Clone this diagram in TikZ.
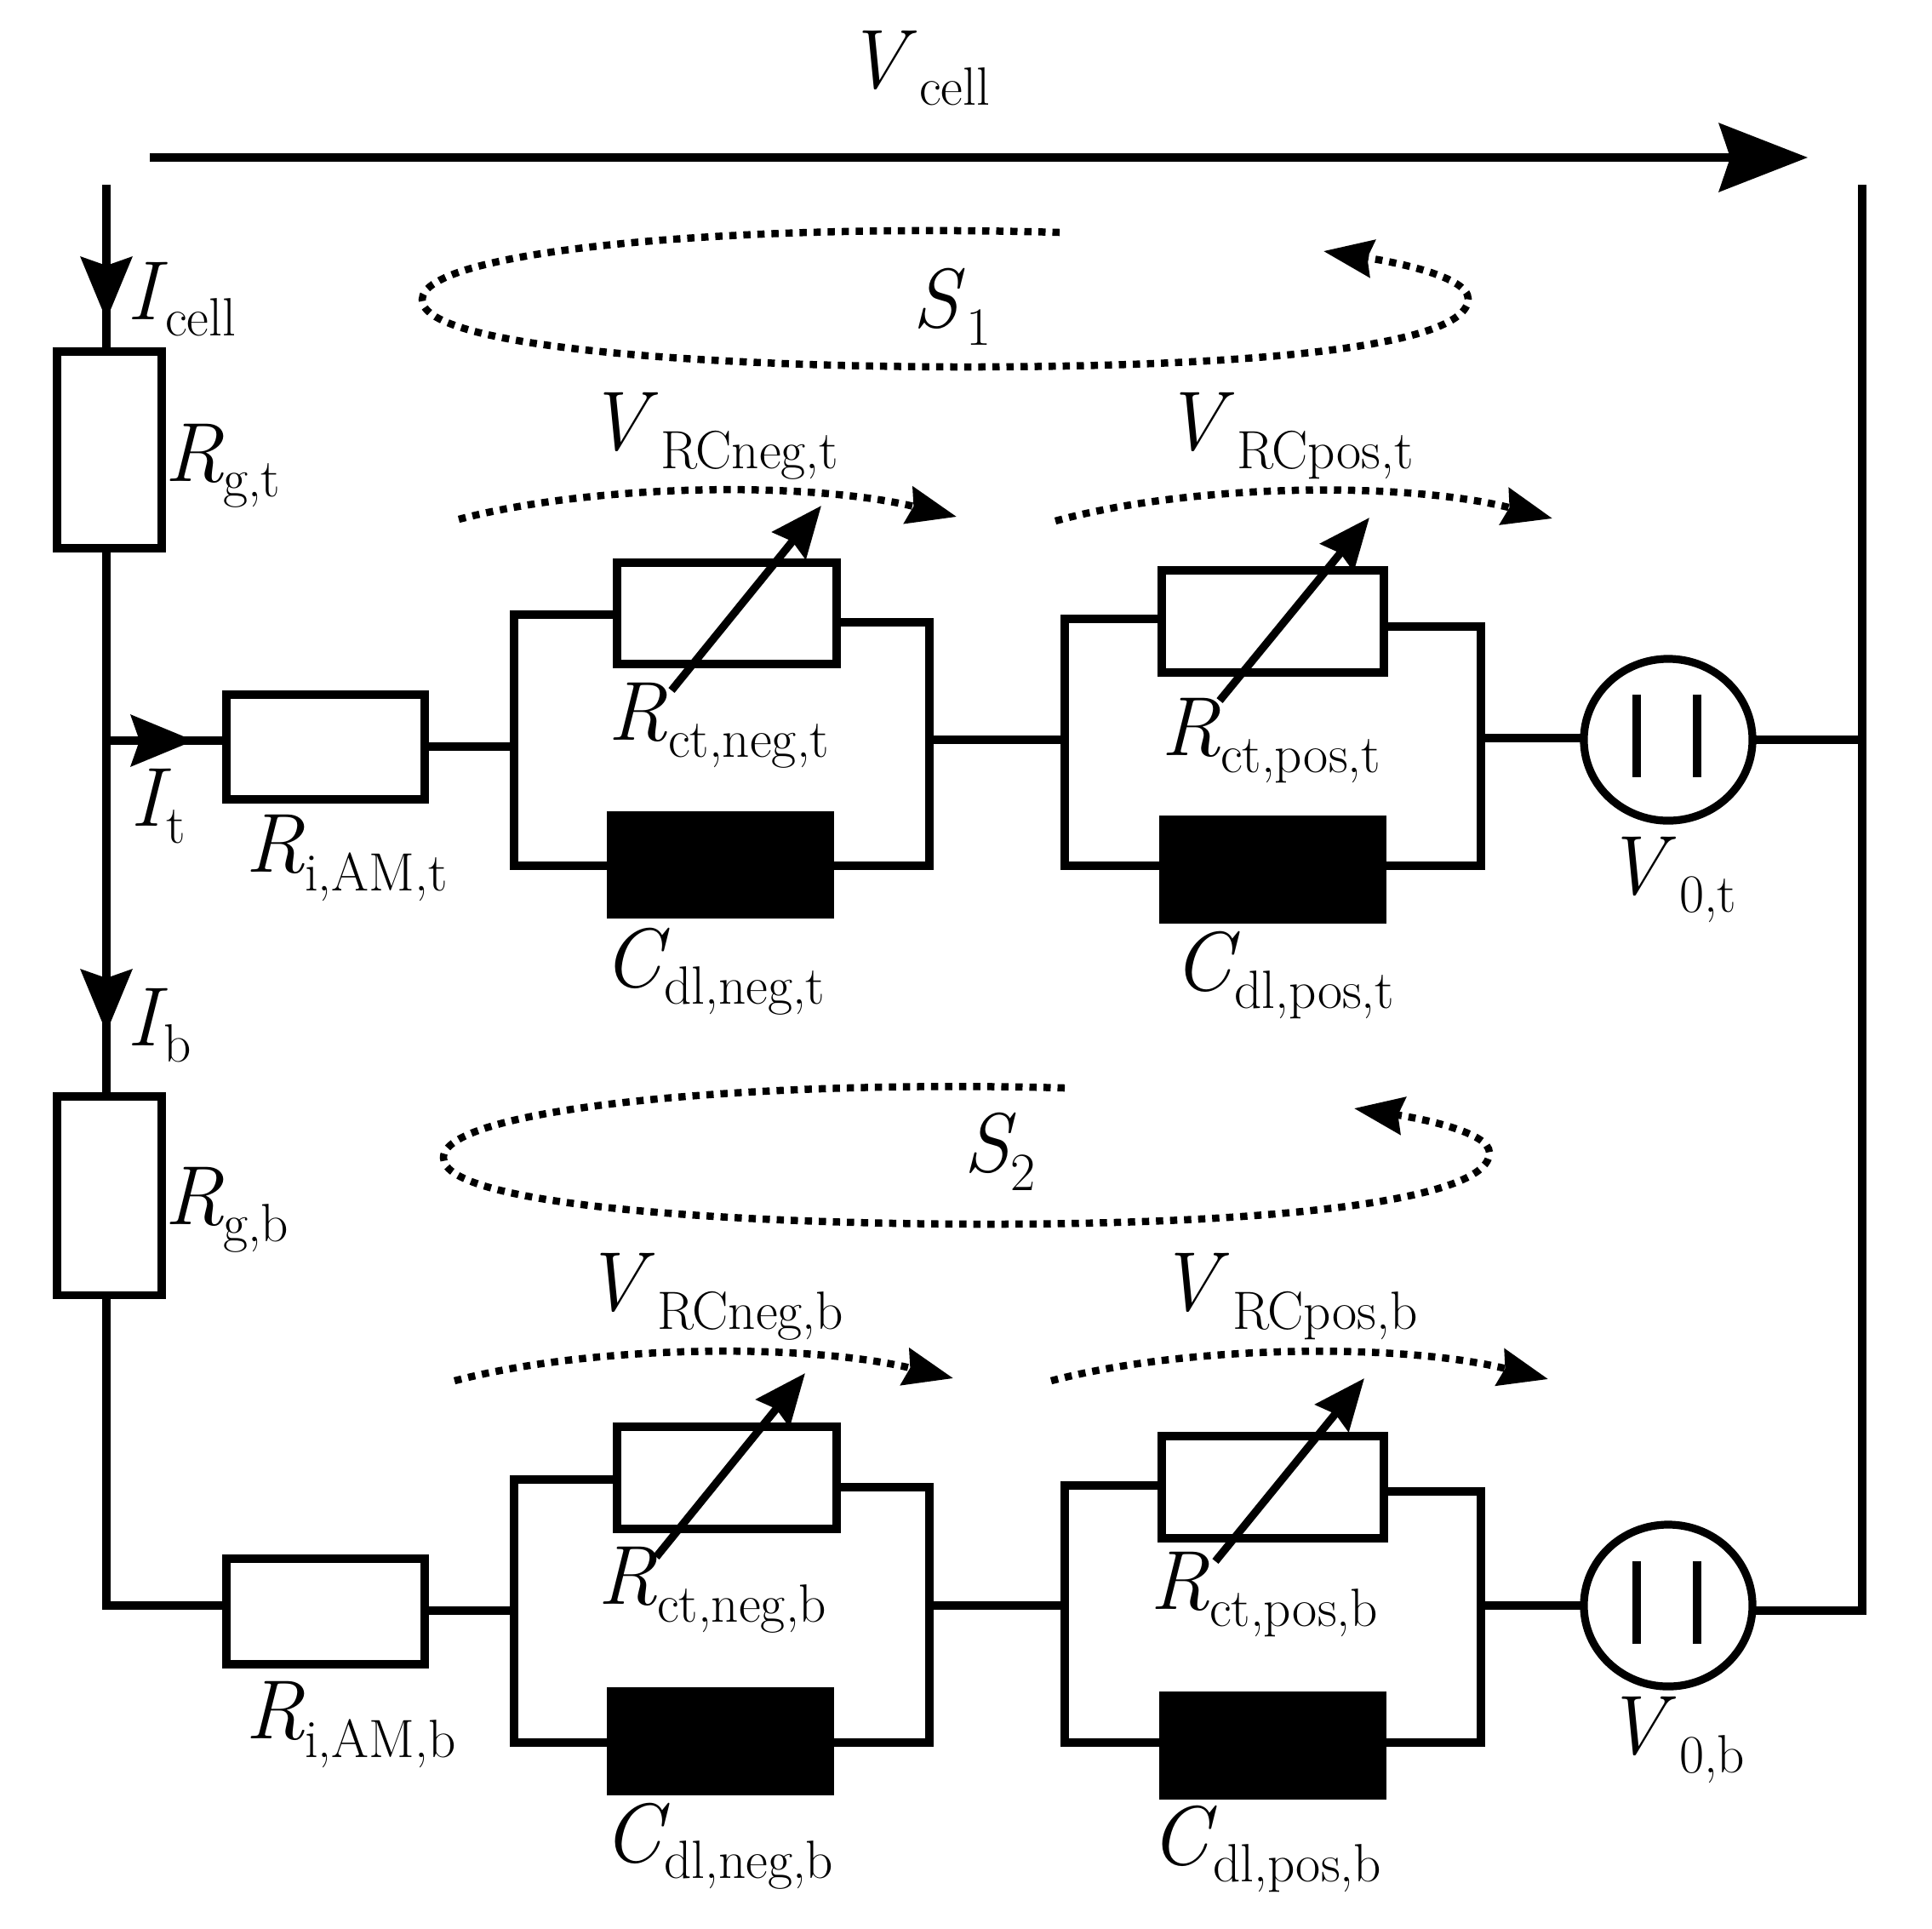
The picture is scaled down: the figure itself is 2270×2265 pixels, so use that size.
\documentclass[tikz,border=0pt]{standalone}
\usepackage{fontspec}
\usetikzlibrary{arrows.meta,shapes.geometric}
\newlength\unitpx
\setlength\unitpx{0.01cm}
\newcommand\kernV{\kern-17\unitpx}
\newcommand\kernR{\kern-10\unitpx}
\newcommand\kernC{\kern-12\unitpx}
\newcommand\kernI{\kern-10\unitpx}
\newcommand\kernS{\kern-7\unitpx}
\newcommand\lab[7]{\node[lab] (#1) at (#2,#3) {\makebox[#5\unitpx][l]{\csname kern#4\endcsname\itshape\fontsize{28}{30}\selectfont #4}\raisebox{-#6\unitpx}{\fontsize{18}{20}\selectfont #7}};}
\tikzset{
  wire/.style={line width=0.092cm,line join=miter,line cap=butt},
  res/.style={draw,line width=0.092cm,fill=none,inner sep=0pt,outer sep=0pt,minimum width=#1},
  capa/.style={fill=black,draw=none,inner sep=0pt,outer sep=0pt,minimum width=2.67cm},
  src/.style={draw,ellipse,line width=0.092cm,inner sep=0pt,outer sep=0pt,minimum width=1.98cm,minimum height=1.90cm},
  bigtip/.style={-{Stealth[length=1.04cm,width=0.80cm,inset=0.13cm]}},
  midtip/.style={-{Stealth[length=0.74cm,width=0.60cm,inset=0.10cm]}},
  adj/.style={wire,-{Stealth[length=0.60cm,width=0.50cm,inset=0.06cm]}},
  dots/.style={line width=0.085cm,dash pattern=on 0.085cm off 0.08cm,-{Stealth[length=0.58cm,width=0.44cm,inset=0.06cm]}},
  lab/.style={anchor=base west,inner sep=0pt,outer sep=0pt},
}
\begin{document}
\begin{tikzpicture}[x=0.01cm,y=-0.01cm]
\useasboundingbox (0,0) rectangle (2270,2265);
% resistors in the left branch
\node[res=1.23cm,minimum height=2.31cm] (Rgt) at (128.5,528.5) {};
\node[res=1.23cm,minimum height=2.33cm] (Rgb) at (128.5,1404.5) {};
\node[res=2.33cm,minimum height=1.23cm] (Rit) at (382.5,877.5) {};
\node[res=2.33cm,minimum height=1.24cm] (Rib) at (382.5,1893) {};
% negative and positive parallel blocks
\node[res=2.58cm,minimum height=1.19cm] (Rnt) at (854,720.5) {};
\node[res=2.61cm,minimum height=1.20cm] (Rpt) at (1495.5,730) {};
\node[res=2.58cm,minimum height=1.20cm] (Rnb) at (854,1736) {};
\node[res=2.61cm,minimum height=1.20cm] (Rpb) at (1495.5,1747) {};
\node[capa,minimum height=1.26cm] (Cnt) at (846.5,1016) {};
\node[capa,minimum height=1.27cm] (Cpt) at (1495.5,1021.5) {};
\node[capa,minimum height=1.27cm] (Cnb) at (846.5,2045.5) {};
\node[capa,minimum height=1.27cm] (Cpb) at (1495.5,2050.5) {};
\node[src] (Vt) at (1960,869) {};
\node[src] (Vb) at (1960,1886) {};
% junction coordinates
\coordinate (a0) at (125,217);
\coordinate (a1) at (125,870);
\coordinate (a2) at (125,1886);
\coordinate (e0) at (2188,217);
\coordinate (e1) at (2188,869);
\coordinate (e2) at (2188,1892);
% left branch
\draw[wire] (a0) -- (a0 |- Rgt.north);
\draw[wire] (a0 |- Rgt.south) -- (a0 |- Rgb.north);
\draw[wire] (a0 |- Rgb.south) -- (a2) -- (a2 -| Rib.west);
\draw[wire] (a1) -- (a1 -| Rit.west);
\coordinate (i0) at (125,295);
\coordinate (i1) at (125,376);
\coordinate (i2) at (125,1130);
\coordinate (i3) at (125,1213);
\coordinate (i4) at (140,870);
\coordinate (i5) at (228,870);
\draw[wire,midtip] (i0) -- (i1);
\draw[wire,midtip] (i2) -- (i3);
\draw[wire,midtip] (i4) -- (i5);
% top block, negative
\coordinate (nt1) at (604,877);
\coordinate (nt2) at (604,722);
\coordinate (nt3) at (604,1017);
\coordinate (nt4) at (1092,731);
\coordinate (nt5) at (1092,1017);
\coordinate (nt6) at (1092,869);
\draw[wire] (Rit.east |- nt1) -- (nt1);
\draw[wire] (Rnt.west |- nt2) -- (nt2) -- (nt3) -- (Cnt.west |- nt3);
\draw[wire] (Rnt.east |- nt4) -- (nt4) -- (nt5) -- (Cnt.east |- nt5);
% top block, positive
\coordinate (pt1) at (1251,869);
\coordinate (pt2) at (1251,727);
\coordinate (pt3) at (1251,1017);
\coordinate (pt4) at (1740,736);
\coordinate (pt5) at (1740,1017);
\coordinate (pt6) at (1740,867);
\draw[wire] (nt6) -- (pt1);
\draw[wire] (Rpt.west |- pt2) -- (pt2) -- (pt3) -- (Cpt.west |- pt3);
\draw[wire] (Rpt.east |- pt4) -- (pt4) -- (pt5) -- (Cpt.east |- pt5);
\draw[wire] (pt6) -- (pt6 -| Vt.west);
\draw[wire] (Vt.east) -- (e1);
% bottom block, negative
\coordinate (nb1) at (604,1892);
\coordinate (nb2) at (604,1738);
\coordinate (nb3) at (604,2047);
\coordinate (nb4) at (1092,1747);
\coordinate (nb5) at (1092,2047);
\coordinate (nb6) at (1092,1886);
\draw[wire] (Rib.east |- nb1) -- (nb1);
\draw[wire] (Rnb.west |- nb2) -- (nb2) -- (nb3) -- (Cnb.west |- nb3);
\draw[wire] (Rnb.east |- nb4) -- (nb4) -- (nb5) -- (Cnb.east |- nb5);
% bottom block, positive
\coordinate (pb1) at (1251,1886);
\coordinate (pb2) at (1251,1745);
\coordinate (pb3) at (1251,2047);
\coordinate (pb4) at (1740,1752);
\coordinate (pb5) at (1740,2047);
\coordinate (pb6) at (1740,1886);
\draw[wire] (nb6) -- (pb1);
\draw[wire] (Rpb.west |- pb2) -- (pb2) -- (pb3) -- (Cpb.west |- pb3);
\draw[wire] (Rpb.east |- pb4) -- (pb4) -- (pb5) -- (Cpb.east |- pb5);
\draw[wire] (pb6) -- (pb6 -| Vb.west);
\draw[wire] (Vb.east |- e2) -- (e2) -- (e0);
% source plates
\draw[wire] ([shift={(-37,-53)}]Vt.center) -- ([shift={(-37,44)}]Vt.center);
\draw[wire] ([shift={(34,-53)}]Vt.center) -- ([shift={(34,44)}]Vt.center);
\draw[wire] ([shift={(-37,-52)}]Vb.center) -- ([shift={(-37,45)}]Vb.center);
\draw[wire] ([shift={(34,-52)}]Vb.center) -- ([shift={(34,45)}]Vb.center);
% V cell arrow
\coordinate (vc0) at (176,185);
\coordinate (vc1) at (2124,185);
\draw[wire,bigtip] (vc0) -- (vc1);
% variable resistor arrows
\coordinate (ant0) at (789,811);
\coordinate (ant1) at (965,594);
\coordinate (apt0) at (1433,823);
\coordinate (apt1) at (1609,608);
\coordinate (anb0) at (771,1829);
\coordinate (anb1) at (946,1613);
\coordinate (apb0) at (1428,1834);
\coordinate (apb1) at (1603,1619);
\draw[adj] (ant0) -- (ant1);
\draw[adj] (apt0) -- (apt1);
\draw[adj] (anb0) -- (anb1);
\draw[adj] (apb0) -- (apb1);
% loops
\coordinate (s10) at (1245,273);
\coordinate (s1l) at (496,352);
\coordinate (s1b) at (1135,431);
\coordinate (s1r) at (1725,351);
\coordinate (s11) at (1555,295);
\draw[dots] (s10) .. controls (850,262) and (496,295) .. (s1l) .. controls (496,410) and (850,431) .. (s1b) .. controls (1450,431) and (1725,410) .. (s1r) .. controls (1725,325) and (1640,308) .. (s11);
\coordinate (s20) at (1251,1278);
\coordinate (s2l) at (521,1360);
\coordinate (s2b) at (1160,1438);
\coordinate (s2r) at (1750,1354);
\coordinate (s21) at (1591,1302);
\draw[dots] (s20) .. controls (880,1268) and (521,1302) .. (s2l) .. controls (521,1418) and (880,1438) .. (s2b) .. controls (1470,1438) and (1750,1414) .. (s2r) .. controls (1750,1330) and (1670,1314) .. (s21);
% voltage arcs
\coordinate (v1a) at (539,610);
\coordinate (v1b) at (1124,607);
\draw[dots] (v1a) .. controls (700,568) and (950,565) .. (v1b);
\coordinate (v2a) at (1240,612);
\coordinate (v2b) at (1824,609);
\draw[dots] (v2a) .. controls (1400,568) and (1650,565) .. (v2b);
\coordinate (v3a) at (534,1622);
\coordinate (v3b) at (1120,1619);
\draw[dots] (v3a) .. controls (695,1580) and (945,1577) .. (v3b);
\coordinate (v4a) at (1235,1622);
\coordinate (v4b) at (1819,1620);
\draw[dots] (v4a) .. controls (1395,1580) and (1645,1577) .. (v4b);
% labels
\lab{l1}{1010}{103}{V}{70}{20}{cell}
\lab{l2}{159}{375}{I}{35}{19}{cell}
\lab{l3}{203}{565}{R}{59}{18}{g,t}
\lab{l4}{163}{970}{I}{32}{20}{t}
\lab{l5}{298}{1024}{R}{60}{22}{i,AM,t}
\lab{l6}{724}{869}{R}{61}{20}{ct,neg,t}
\lab{l7}{706}{528}{V}{70}{22}{RCneg,t}
\lab{l8}{720}{1159}{C}{60}{20}{dl,neg,t}
\lab{l9}{159}{1228}{I}{33}{19}{b}
\lab{l10}{203}{1438}{R}{59}{20}{g,b}
\lab{l11}{702}{1539}{V}{70}{22}{RCneg,b}
\lab{l12}{712}{1884}{R}{60}{21}{ct,neg,b}
\lab{l13}{298}{2042}{R}{60}{22}{i,AM,b}
\lab{l14}{720}{2187}{C}{60}{19}{dl,neg,b}
\lab{l15}{1079}{384}{S}{56}{21}{1}
\lab{l16}{1139}{1376}{S}{48}{22}{2}
\lab{l17}{1383}{528}{V}{70}{22}{RCpos,t}
\lab{l18}{1374}{887}{R}{60}{20}{ct,pos,t}
\lab{l19}{1390}{1163}{C}{60}{21}{dl,pos,t}
\lab{l20}{1902}{1050}{V}{71}{21}{0,t}
\lab{l21}{1377}{1539}{V}{71}{22}{RCpos,b}
\lab{l22}{1361}{1890}{R}{60}{20}{ct,pos,b}
\lab{l23}{1363}{2190}{C}{62}{20}{dl,pos,b}
\lab{l24}{1902}{2060}{V}{71}{22}{0,b}
\end{tikzpicture}
\end{document}
